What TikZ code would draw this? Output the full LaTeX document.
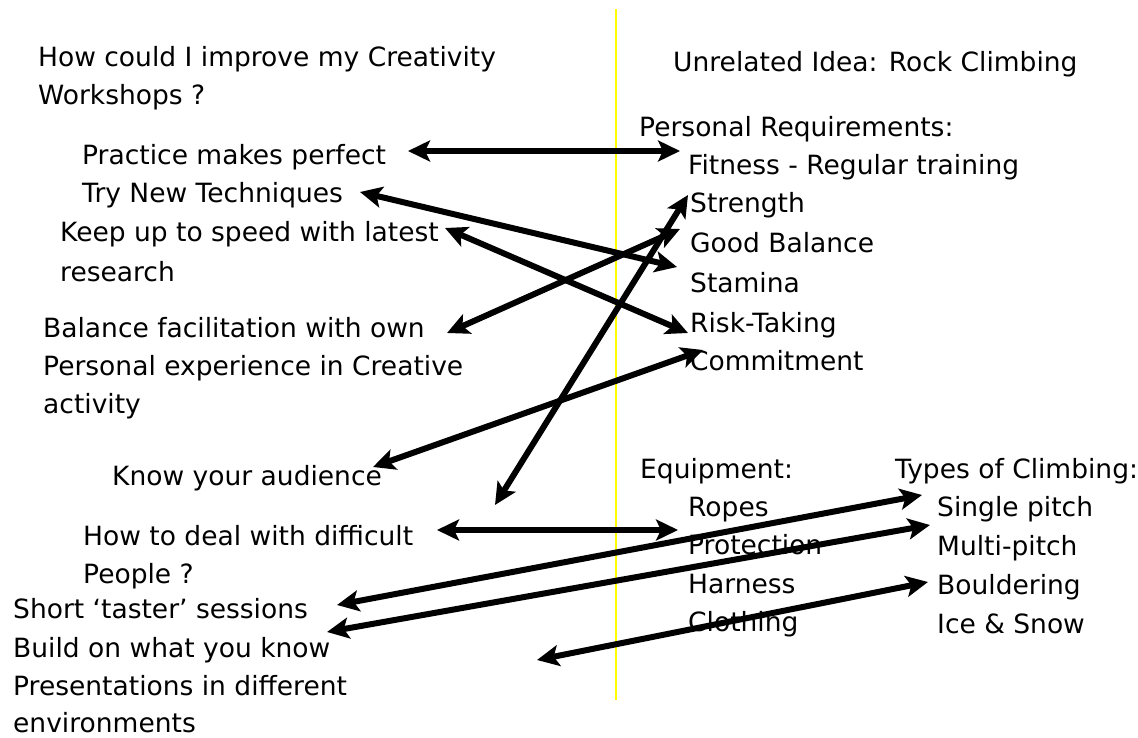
\documentclass[tikz,border=0pt]{standalone}
\usepackage{fontspec}
\setmainfont{DejaVu Sans}
\usetikzlibrary{arrows.meta}
\begin{document}
\begin{tikzpicture}[x=1pt,y=-1pt,
  txt/.style={anchor=base west,inner sep=0pt,font=\fontsize{26.5}{31}\selectfont},
  link/.style={line width=6pt,{Stealth[length=22pt,width=21pt,inset=5pt]}-{Stealth[length=22pt,width=21pt,inset=5pt]}},
  divider/.style={line width=2.5pt,draw={rgb,255:red,255;green,255;blue,0}}]
\useasboundingbox (0,0) rectangle (1138,738);
\fill[white] (0,0) rectangle (1138,738);

% dividing line between the two columns
\coordinate (divtop) at (616,9);
\coordinate (divbot) at (616,700);
\draw[divider] (divtop) -- (divbot);

% left column: the problem and ideas
\node[txt] (q1) at (38,67) {How could I improve my Creativity};
\node[txt] (q2) at (38,105) {Workshops ?};
\node[txt] (practice) at (82,165) {Practice makes perfect};
\node[txt] (trynew) at (82,203) {Try New Techniques};
\node[txt] (keepup) at (60,242) {Keep up to speed with latest};
\node[txt] (research) at (60,281) {research};
\node[txt] (balance) at (43,337) {Balance facilitation with own};
\node[txt] (persexp) at (43,375) {Personal experience in Creative};
\node[txt] (activity) at (43,413) {activity};
\node[txt] (audience) at (112,485) {Know your audience};
\node[txt] (deal) at (83,545) {How to deal with difficult};
\node[txt] (people) at (83,583) {People ?};
\node[txt] (taster) at (13,618) {Short ‘taster’ sessions};
\node[txt] (build) at (13,657) {Build on what you know};
\node[txt] (present) at (13,695) {Presentations in different};
\node[txt] (environ) at (13,732) {environments};

% right column: the unrelated idea
\node[txt] (unrelated) at (673,72) {Unrelated Idea: Rock Climbing};
\node[txt] (persreq) at (639,137) {Personal Requirements:};
\node[txt] (fitness) at (688,175) {Fitness - Regular training};
\node[txt] (strength) at (690,213) {Strength};
\node[txt] (goodbal) at (690,253) {Good Balance};
\node[txt] (stamina) at (690,292) {Stamina};
\node[txt] (risk) at (690,332) {Risk-Taking};
\node[txt] (commit) at (690,370) {Commitment};
\node[txt] (equip) at (640,478) {Equipment:};
\node[txt] (ropes) at (688,516) {Ropes};
\node[txt] (protection) at (688,554) {Protection};
\node[txt] (harness) at (688,593) {Harness};
\node[txt] (clothing) at (688,631) {Clothing};
\node[txt] (types) at (895,478) {Types of Climbing:};
\node[txt] (single) at (937,516) {Single pitch};
\node[txt] (multi) at (937,555) {Multi-pitch};
\node[txt] (boulder) at (937,594) {Bouldering};
\node[txt] (ice) at (937,633) {Ice \& Snow};

% links between ideas
\draw[link] ([shift={(326,-14)}]practice.base west) -- ([shift={(-8,-24)}]fitness.base west);
\draw[link] ([shift={(278,-11)}]trynew.base west) -- ([shift={(-13,-25)}]stamina.base west);
\draw[link] ([shift={(385,-14)}]keepup.base west) -- ([shift={(-2,1)}]risk.base west);
\draw[link] ([shift={(404,-4)}]balance.base west) -- ([shift={(-10,-24)}]goodbal.base west);
\draw[link] ([shift={(-2,-18)}]strength.base west) -- ([shift={(412,-40)}]deal.base west);
\draw[link] ([shift={(13,-20)}]commit.base west) -- ([shift={(261,-18)}]audience.base west);
\draw[link] ([shift={(354,-15)}]deal.base west) -- ([shift={(-10,14)}]ropes.base west);
\draw[link] ([shift={(324,-13)}]taster.base west) -- ([shift={(-15,-21)}]single.base west);
\draw[link] ([shift={(314,-25)}]build.base west) -- ([shift={(-7,-30)}]multi.base west);
\draw[link] ([shift={(-151,29)}]clothing.base west) -- ([shift={(-9,-12)}]boulder.base west);
\end{tikzpicture}
\end{document}
